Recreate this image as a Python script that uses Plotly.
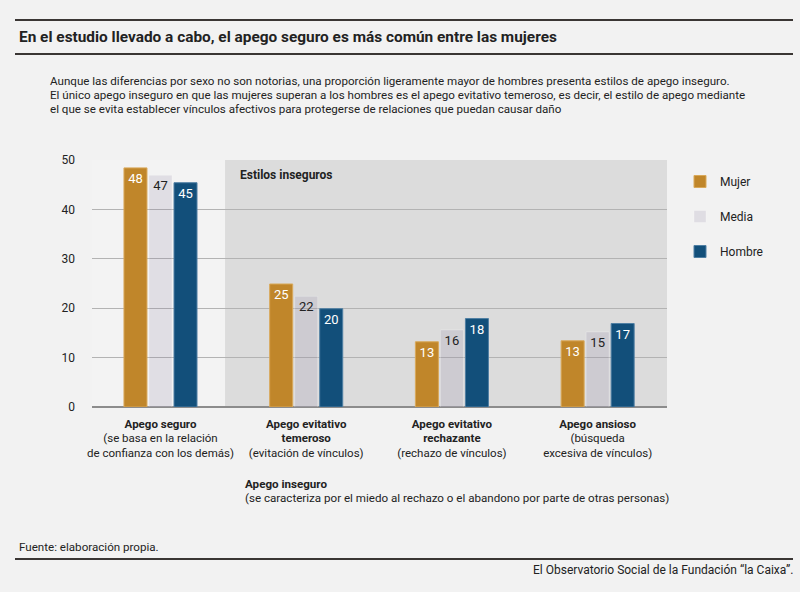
import plotly.graph_objects as go

# Datos (porcentaje por estilo de apego)
categorias = [
    "<b>Apego seguro</b><br>(se basa en la relación<br>de confianza con los demás)",
    "<b>Apego evitativo<br>temeroso</b><br>(evitación de vínculos)",
    "<b>Apego evitativo<br>rechazante</b><br>(rechazo de vínculos)",
    "<b>Apego ansioso</b><br>(búsqueda<br>excesiva de vínculos)",
]
mujer = [48.4, 24.9, 13.2, 13.4]
media = [46.9, 22.4, 15.6, 15.2]
hombre = [45.4, 19.9, 17.9, 16.9]

FONT = "Roboto, sans-serif"
BG = "#f2f2f2"

# helpers: pixel -> paper
L, R, T, B = 92, 667, 160, 407
def px(x):
    return (x - L) / (R - L)
def py(y):
    return (B - y) / (B - T)

pos = [0, 1, 2, 3]

fig = go.Figure()
series = [
    ("Mujer", mujer, "#c0862a", "#d9a95a", "white"),
    ("Media", media, "rgba(140,130,160,0.18)", "rgba(255,255,255,0.25)", "#222"),
    ("Hombre", hombre, "#124f7a", "#4f7fa3", "white"),
]
for nombre, vals, color, borde, tcolor in series:
    fig.add_trace(go.Bar(
        x=pos, y=vals, name=nombre, legendgroup=nombre,
        marker=dict(color=color, line=dict(color=borde, width=1)),
        texttemplate="%{y:.0f}", textposition="inside", insidetextanchor="end",
        textangle=0, textfont=dict(color=tcolor, size=13, family=FONT),
        hoverinfo="skip",
    ))

# zona de estilos inseguros
fig.add_shape(type="rect", xref="x", yref="y", x0=0.443, x1=3.476, y0=0, y1=50,
              fillcolor="#dcdcdc", line_width=0, layer="below")

# líneas de cabecera y pie
for y in [20, 54, 559]:
    fig.add_shape(type="line", xref="paper", yref="paper", x0=px(15), x1=px(793),
                  y0=py(y), y1=py(y), line=dict(color="#3a3634", width=2))

def texto(x, y, t, size=11.6, anchor="left", color="#222"):
    fig.add_annotation(xref="paper", yref="paper", x=px(x), y=py(y), text=t,
                       showarrow=False, xanchor=anchor, yanchor="middle", align=anchor,
                       font=dict(size=size, family=FONT, color=color))

texto(17, 37, "<b>En el estudio llevado a cabo, el apego seguro es más común entre las mujeres</b>", size=15.4)
texto(48, 81, "Aunque las diferencias por sexo no son notorias, una proporción ligeramente mayor de hombres presenta estilos de apego inseguro.")
texto(48, 95, "El único apego inseguro en que las mujeres superan a los hombres es el apego evitativo temeroso, es decir, el estilo de apego mediante")
texto(48, 109, "el que se evita establecer vínculos afectivos para protegerse de relaciones que puedan causar daño")
texto(238, 175, "<b>Estilos inseguros</b>", size=12)
texto(243, 484, "<b>Apego inseguro</b>")
texto(243, 498, "(se caracteriza por el miedo al rechazo o el abandono por parte de otras personas)")
texto(17, 547, "Fuente: elaboración propia.")
texto(795, 570, "El Observatorio Social de la Fundación “la Caixa”.", size=12, anchor="right")

fig.update_layout(
    width=800, height=592,
    paper_bgcolor=BG, plot_bgcolor="#f3f3f3",
    margin=dict(l=L, r=800 - R, t=T, b=592 - B),
    barmode="group", bargap=0.485, bargroupgap=0.08,
    font=dict(family=FONT, size=12, color="#222"),
    showlegend=True,
    legend=dict(x=px(680), y=py(167), xanchor="left", yanchor="top",
                bgcolor="rgba(0,0,0,0)", tracegroupgap=16,
                font=dict(size=12, family=FONT)),
)
fig.update_xaxes(range=[-0.47, 3.476], tickvals=pos, ticktext=categorias,
                 showgrid=False, ticks="", ticklabelstandoff=8,
                 tickfont=dict(size=11.5, family=FONT, color="#222"),
                 fixedrange=True)
fig.update_yaxes(range=[0, 50], dtick=10, showgrid=True, gridcolor="#b3b3b3", gridwidth=1,
                 zeroline=True, zerolinecolor="#8c8c8c", zerolinewidth=2,
                 ticks="", ticklabelstandoff=16, tickfont=dict(size=12, family=FONT, color="#222"),
                 fixedrange=True)

fig.write_html("out.html", config={"displayModeBar": False},
               post_script="document.body.style.margin='0';")
